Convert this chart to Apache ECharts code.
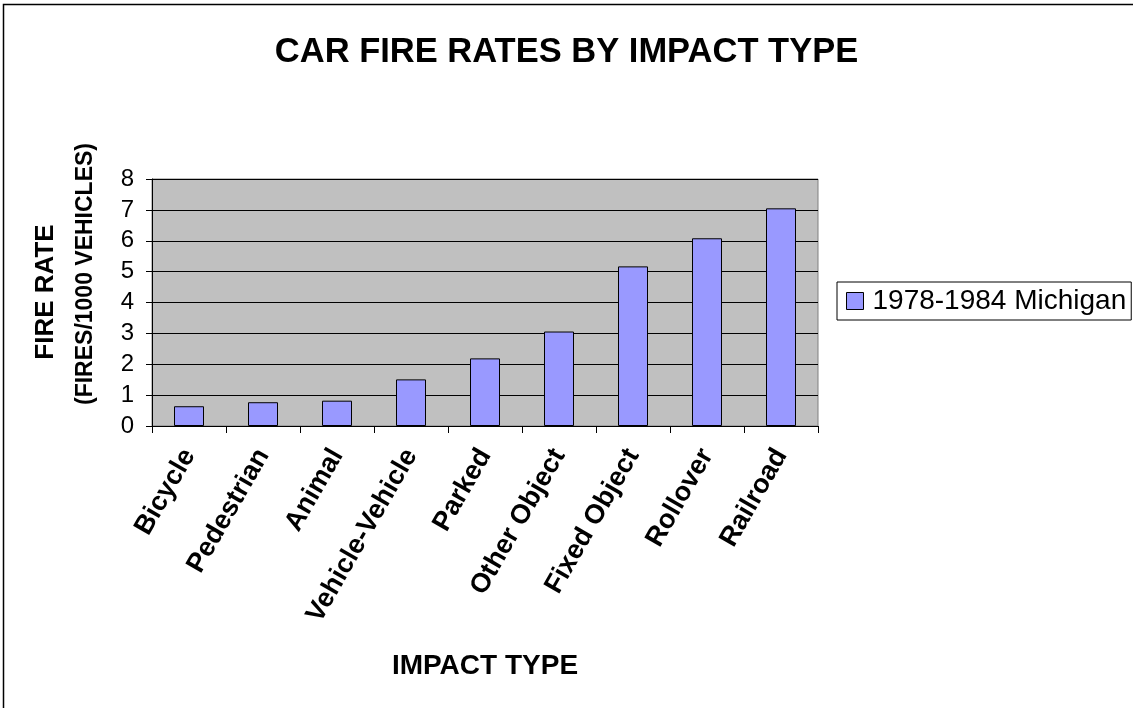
<!DOCTYPE html>
<html>
<head>
<meta charset="utf-8">
<script src="https://cdn.jsdelivr.net/npm/echarts@6/dist/echarts.min.js"></script>
<style>
  html, body { margin: 0; padding: 0; background: #fff; }
  #chart { width: 1133px; height: 708px; }
</style>
</head>
<body>
<div id="chart"></div>
<script>
// impact types and fire rates (fires per 1000 vehicles)
let categories = ['Bicycle', 'Pedestrian', 'Animal', 'Vehicle-Vehicle', 'Parked',
  'Other Object', 'Fixed Object', 'Rollover', 'Railroad'];
let fireRates = [0.64, 0.77, 0.82, 1.51, 2.19, 3.06, 5.17, 6.08, 7.05];
let seriesName = '1978-1984 Michigan';

let font = '"Liberation Sans", Arial, sans-serif';

let chart = echarts.init(document.getElementById('chart'));

let option = {
  backgroundColor: '#fff',
  animation: false,
  textStyle: { fontFamily: font },
  title: {
    text: 'CAR FIRE RATES BY IMPACT TYPE',
    left: 'center',
    top: 30,
    textStyle: { fontSize: 34.5, fontWeight: 'bold', color: '#000', fontFamily: font }
  },
  graphic: [
    {
      type: 'rect',
      shape: { x: 3.5, y: 4.5, width: 1200, height: 800 },
      style: { fill: 'none', stroke: '#000', lineWidth: 1.5 },
      silent: true
    },
    {
      type: 'text',
      x: 46, y: 292,
      rotation: Math.PI / 2,
      style: {
        text: 'FIRE RATE', fill: '#000', font: 'bold 26px ' + font,
        textAlign: 'center', textVerticalAlign: 'middle'
      }
    },
    {
      type: 'text',
      x: 86, y: 274,
      rotation: Math.PI / 2,
      style: {
        text: '(FIRES/1000 VEHICLES)', fill: '#000', font: 'bold 23px ' + font,
        textAlign: 'center', textVerticalAlign: 'middle'
      }
    }
  ],
  legend: {
    left: 837,
    top: 282,
    padding: [5, 5, 5, 9],
    borderColor: '#000',
    borderWidth: 1,
    itemWidth: 17,
    itemHeight: 17,
    icon: 'rect',
    itemStyle: { borderColor: '#000', borderWidth: 1 },
    textStyle: { fontSize: 28, color: '#000', fontFamily: font, padding: [0, 0, 0, 4] },
    data: [seriesName]
  },
  grid: {
    left: 152,
    top: 179,
    width: 666,
    height: 247,
    show: true,
    backgroundColor: '#c0c0c0',
    borderColor: '#808080',
    borderWidth: 1
  },
  xAxis: {
    type: 'category',
    data: categories,
    name: 'IMPACT TYPE',
    nameLocation: 'middle',
    nameGap: 226,
    nameTextStyle: { fontSize: 28, fontWeight: 'bold', color: '#000', fontFamily: font },
    axisLine: { lineStyle: { color: '#000', width: 1 } },
    axisTick: { show: true, alignWithLabel: false, length: 7, lineStyle: { color: '#000' } },
    axisLabel: {
      rotate: 60,
      fontSize: 27,
      fontWeight: 'bold',
      color: '#000',
      margin: 25,
      interval: 0,
      fontFamily: font
    }
  },
  yAxis: {
    type: 'value',
    min: 0,
    max: 8,
    interval: 1,
    axisLine: { show: true, lineStyle: { color: '#000', width: 1 } },
    axisTick: { show: true, length: 6, lineStyle: { color: '#000' } },
    axisLabel: { fontSize: 24, color: '#000', margin: 18, fontFamily: font },
    splitLine: { show: true, lineStyle: { color: '#000', width: 1 } }
  },
  series: [{
    name: seriesName,
    type: 'bar',
    data: fireRates,
    barWidth: 30,
    itemStyle: { color: '#9999ff', borderColor: '#000', borderWidth: 1 }
  }]
};

chart.setOption(option);
</script>
</body>
</html>
